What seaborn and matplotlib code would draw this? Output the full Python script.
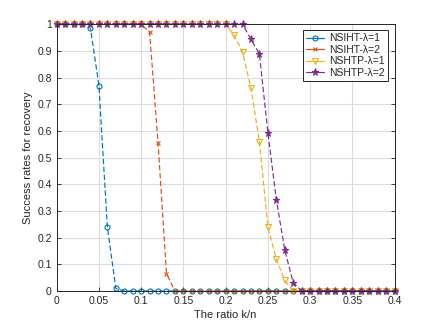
import numpy as np
import pandas as pd
import matplotlib
matplotlib.use("Agg")
import matplotlib.pyplot as plt
import seaborn as sns

x = [round(0.01 * i, 2) for i in range(41)]

nsiht_l1 = [1, 1, 1, 1, 0.985, 0.77, 0.24, 0.01] + [0] * 33
nsiht_l2 = [1] * 11 + [0.97, 0.555, 0.065] + [0] * 27
nshtp_l1 = [1] * 21 + [0.96, 0.896, 0.76, 0.56, 0.24, 0.119, 0.04] + [0] * 13
nshtp_l2 = [1] * 23 + [0.943, 0.888, 0.594, 0.343, 0.154, 0.031] + [0] * 12

labels = ["NSIHT-λ=1", "NSIHT-λ=2", "NSHTP-λ=1", "NSHTP-λ=2"]
series = [nsiht_l1, nsiht_l2, nshtp_l1, nshtp_l2]
colors = ["#0072BD", "#D95319", "#EDB120", "#7E2F8E"]
markers = ["o", "x", "v", "*"]

xticks = [0, 0.05, 0.1, 0.15, 0.2, 0.25, 0.3, 0.35, 0.4]
xticklabels = ["0", "0.05", "0.1", "0.15", "0.2", "0.25", "0.3", "0.35", "0.4"]
yticks = [0, 0.1, 0.2, 0.3, 0.4, 0.5, 0.6, 0.7, 0.8, 0.9, 1]
yticklabels = ["0", "0.1", "0.2", "0.3", "0.4", "0.5", "0.6", "0.7", "0.8", "0.9", "1"]

sns.set_style("white")
plt.rcParams["font.family"] = ["Liberation Sans", "DejaVu Sans"]

fig = plt.figure(figsize=(4.36, 3.27), dpi=100)
ax = fig.add_axes([0.130, 0.110, 0.775, 0.816])

sizes = {"o": 3.6, "x": 3.4, "v": 4.0, "*": 5.2}
for lab, ys, c, m in zip(labels, series, colors, markers):
    df = pd.DataFrame({"x": x, "y": ys})
    filled = m in ("*", "x")
    sns.lineplot(data=df, x="x", y="y", ax=ax, color=c, linestyle=(0, (4.5, 2.2)),
                 linewidth=0.85, marker=m, markersize=sizes[m],
                 markerfacecolor=c if filled else "none", markeredgecolor=c,
                 markeredgewidth=0.8, label=lab, clip_on=False)

ax.set_xlim(0, 0.4)
ax.set_ylim(0, 1)
ax.set_xticks(xticks)
ax.set_xticklabels(xticklabels)
ax.set_yticks(yticks)
ax.set_yticklabels(yticklabels)
ax.grid(True, color="#dcdcdc", linewidth=0.8)
ax.set_axisbelow(True)
ax.tick_params(direction="in", length=3, labelsize=7.5, colors="#262626",
               right=True, top=False, bottom=True, left=True, width=0.6)
for s in ax.spines.values():
    s.set_color("#262626")
    s.set_linewidth(0.7)
ax.set_xlabel("The ratio k/n", fontsize=8, color="#262626", labelpad=3)
ax.set_ylabel("Success rates for recovery", fontsize=8, color="#262626", labelpad=3)

leg = ax.legend(loc="upper right", fontsize=7.5, frameon=True, fancybox=False,
                edgecolor="#262626", framealpha=1, handlelength=1.7,
                borderpad=0.3, labelspacing=0.15, handletextpad=0.5,
                borderaxespad=0, bbox_to_anchor=(0.98, 0.978))
leg.get_frame().set_linewidth(0.7)
for h in leg.get_lines():
    h.set_linestyle("-")

fig.savefig("out.png", dpi=100, facecolor="white")
